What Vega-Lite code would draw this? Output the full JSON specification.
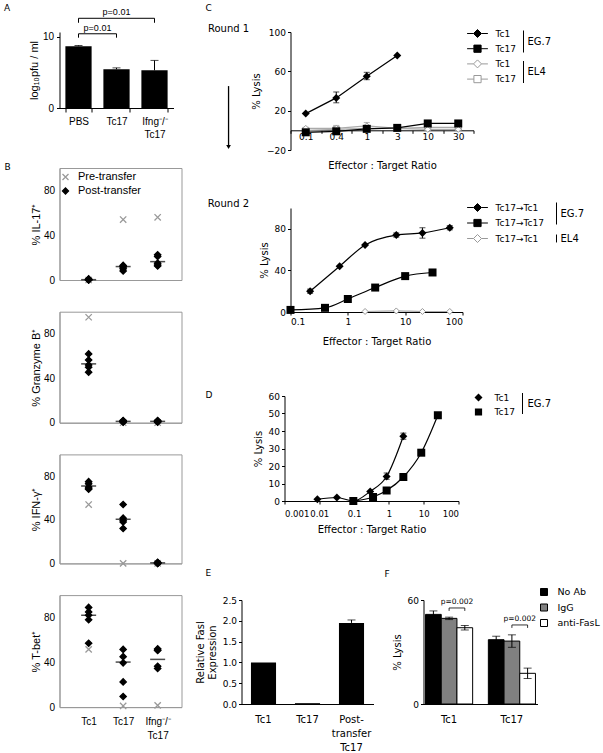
{
"$schema": "https://vega.github.io/schema/vega-lite/v6.json",
"background": "white",
"padding": {"left": 3.5, "top": 3, "right": 0, "bottom": 0},
"config": {
  "view": {"stroke": null},
  "axis": {"grid": false, "domainColor": "black", "tickColor": "black", "labelColor": "black", "titleColor": "black", "titleFontWeight": "normal", "labelFont": "DejaVu Sans", "titleFont": "DejaVu Sans", "labelFontSize": 9, "titleFontSize": 10, "tickSize": 3, "labelOverlap": false},
  "legend": {"labelFont": "DejaVu Sans", "labelFontSize": 10, "labelColor": "black", "padding": 0},
  "title": {"font": "DejaVu Sans", "fontSize": 9, "fontWeight": "normal", "anchor": "start", "frame": "group", "color": "black"}
},
"datasets": {
  "a": [
    {"grp": "PBS", "pfu": 8.7, "hi": 8.8},
    {"grp": "Tc17", "pfu": 5.45, "hi": 5.65},
    {"grp": "Ifng-/- Tc17", "pfu": 5.3, "hi": 6.7}
  ],
  "pa": [
    {"from": "PBS", "to": "Tc17", "top": 10.45, "bot": 9.9, "label": "p=0.01", "pos": "lower", "mid": "PBS"},
    {"from": "PBS", "to": "Ifng-/- Tc17", "top": 12.63, "bot": 12.0, "label": "p=0.01", "pos": "upper", "mid": "Tc17"}
  ],
  "bdata": [
    {"p": "IL", "cell": "Tc1", "kind": "Pre-transfer", "v": 0},
    {"p": "IL", "cell": "Tc17", "kind": "Pre-transfer", "v": 54},
    {"p": "IL", "cell": "Ifng-/- Tc17", "kind": "Pre-transfer", "v": 56},
    {"p": "IL", "cell": "Tc1", "kind": "Post-transfer", "v": 0},
    {"p": "IL", "cell": "Tc1", "kind": "Post-transfer", "v": 0.3},
    {"p": "IL", "cell": "Tc1", "kind": "Post-transfer", "v": 0.5},
    {"p": "IL", "cell": "Tc1", "kind": "Post-transfer", "v": 1},
    {"p": "IL", "cell": "Tc1", "kind": "Post-transfer", "v": 0},
    {"p": "IL", "cell": "Tc17", "kind": "Post-transfer", "v": 13},
    {"p": "IL", "cell": "Tc17", "kind": "Post-transfer", "v": 12},
    {"p": "IL", "cell": "Tc17", "kind": "Post-transfer", "v": 11.5},
    {"p": "IL", "cell": "Tc17", "kind": "Post-transfer", "v": 10},
    {"p": "IL", "cell": "Tc17", "kind": "Post-transfer", "v": 8},
    {"p": "IL", "cell": "Ifng-/- Tc17", "kind": "Post-transfer", "v": 22.5},
    {"p": "IL", "cell": "Ifng-/- Tc17", "kind": "Post-transfer", "v": 21},
    {"p": "IL", "cell": "Ifng-/- Tc17", "kind": "Post-transfer", "v": 15},
    {"p": "IL", "cell": "Ifng-/- Tc17", "kind": "Post-transfer", "v": 13.5},
    {"p": "IL", "cell": "Ifng-/- Tc17", "kind": "Post-transfer", "v": 12.5},
    {"p": "GZ", "cell": "Tc1", "kind": "Pre-transfer", "v": 95},
    {"p": "GZ", "cell": "Tc17", "kind": "Pre-transfer", "v": 0},
    {"p": "GZ", "cell": "Ifng-/- Tc17", "kind": "Pre-transfer", "v": 0},
    {"p": "GZ", "cell": "Tc1", "kind": "Post-transfer", "v": 62},
    {"p": "GZ", "cell": "Tc1", "kind": "Post-transfer", "v": 56.5},
    {"p": "GZ", "cell": "Tc1", "kind": "Post-transfer", "v": 52},
    {"p": "GZ", "cell": "Tc1", "kind": "Post-transfer", "v": 50},
    {"p": "GZ", "cell": "Tc1", "kind": "Post-transfer", "v": 45.5},
    {"p": "GZ", "cell": "Tc17", "kind": "Post-transfer", "v": 2},
    {"p": "GZ", "cell": "Tc17", "kind": "Post-transfer", "v": 1.5},
    {"p": "GZ", "cell": "Tc17", "kind": "Post-transfer", "v": 1},
    {"p": "GZ", "cell": "Tc17", "kind": "Post-transfer", "v": 1},
    {"p": "GZ", "cell": "Tc17", "kind": "Post-transfer", "v": 0.5},
    {"p": "GZ", "cell": "Ifng-/- Tc17", "kind": "Post-transfer", "v": 2},
    {"p": "GZ", "cell": "Ifng-/- Tc17", "kind": "Post-transfer", "v": 1.5},
    {"p": "GZ", "cell": "Ifng-/- Tc17", "kind": "Post-transfer", "v": 1},
    {"p": "GZ", "cell": "Ifng-/- Tc17", "kind": "Post-transfer", "v": 1},
    {"p": "GZ", "cell": "Ifng-/- Tc17", "kind": "Post-transfer", "v": 0.5},
    {"p": "IFN", "cell": "Tc1", "kind": "Pre-transfer", "v": 54},
    {"p": "IFN", "cell": "Tc17", "kind": "Pre-transfer", "v": 0},
    {"p": "IFN", "cell": "Ifng-/- Tc17", "kind": "Pre-transfer", "v": 0},
    {"p": "IFN", "cell": "Tc1", "kind": "Post-transfer", "v": 75},
    {"p": "IFN", "cell": "Tc1", "kind": "Post-transfer", "v": 73},
    {"p": "IFN", "cell": "Tc1", "kind": "Post-transfer", "v": 70},
    {"p": "IFN", "cell": "Tc1", "kind": "Post-transfer", "v": 69},
    {"p": "IFN", "cell": "Tc1", "kind": "Post-transfer", "v": 68},
    {"p": "IFN", "cell": "Tc17", "kind": "Post-transfer", "v": 54},
    {"p": "IFN", "cell": "Tc17", "kind": "Post-transfer", "v": 41.5},
    {"p": "IFN", "cell": "Tc17", "kind": "Post-transfer", "v": 39.5},
    {"p": "IFN", "cell": "Tc17", "kind": "Post-transfer", "v": 38},
    {"p": "IFN", "cell": "Tc17", "kind": "Post-transfer", "v": 32},
    {"p": "IFN", "cell": "Ifng-/- Tc17", "kind": "Post-transfer", "v": 1},
    {"p": "IFN", "cell": "Ifng-/- Tc17", "kind": "Post-transfer", "v": 0.5},
    {"p": "IFN", "cell": "Ifng-/- Tc17", "kind": "Post-transfer", "v": 0.5},
    {"p": "IFN", "cell": "Ifng-/- Tc17", "kind": "Post-transfer", "v": 0},
    {"p": "IFN", "cell": "Ifng-/- Tc17", "kind": "Post-transfer", "v": 0},
    {"p": "TB", "cell": "Tc1", "kind": "Pre-transfer", "v": 51.5},
    {"p": "TB", "cell": "Tc17", "kind": "Pre-transfer", "v": 1},
    {"p": "TB", "cell": "Ifng-/- Tc17", "kind": "Pre-transfer", "v": 1.5},
    {"p": "TB", "cell": "Tc1", "kind": "Post-transfer", "v": 89},
    {"p": "TB", "cell": "Tc1", "kind": "Post-transfer", "v": 85},
    {"p": "TB", "cell": "Tc1", "kind": "Post-transfer", "v": 82},
    {"p": "TB", "cell": "Tc1", "kind": "Post-transfer", "v": 78},
    {"p": "TB", "cell": "Tc1", "kind": "Post-transfer", "v": 57},
    {"p": "TB", "cell": "Tc17", "kind": "Post-transfer", "v": 51.5},
    {"p": "TB", "cell": "Tc17", "kind": "Post-transfer", "v": 45},
    {"p": "TB", "cell": "Tc17", "kind": "Post-transfer", "v": 39.5},
    {"p": "TB", "cell": "Tc17", "kind": "Post-transfer", "v": 22.5},
    {"p": "TB", "cell": "Tc17", "kind": "Post-transfer", "v": 9.5},
    {"p": "TB", "cell": "Ifng-/- Tc17", "kind": "Post-transfer", "v": 52},
    {"p": "TB", "cell": "Ifng-/- Tc17", "kind": "Post-transfer", "v": 51},
    {"p": "TB", "cell": "Ifng-/- Tc17", "kind": "Post-transfer", "v": 50.5},
    {"p": "TB", "cell": "Ifng-/- Tc17", "kind": "Post-transfer", "v": 36.5},
    {"p": "TB", "cell": "Ifng-/- Tc17", "kind": "Post-transfer", "v": 34.5}
  ],
  "bmed": [
    {"p": "IL", "cell": "Tc1", "v": 0.3}, {"p": "IL", "cell": "Tc17", "v": 12}, {"p": "IL", "cell": "Ifng-/- Tc17", "v": 16.4},
    {"p": "GZ", "cell": "Tc1", "v": 53}, {"p": "GZ", "cell": "Tc17", "v": 1.2}, {"p": "GZ", "cell": "Ifng-/- Tc17", "v": 1.2},
    {"p": "IFN", "cell": "Tc1", "v": 71}, {"p": "IFN", "cell": "Tc17", "v": 40.5}, {"p": "IFN", "cell": "Ifng-/- Tc17", "v": 0.5},
    {"p": "TB", "cell": "Tc1", "v": 82}, {"p": "TB", "cell": "Tc17", "v": 40.2}, {"p": "TB", "cell": "Ifng-/- Tc17", "v": 42.6}
  ],
  "c1": [
    {"ratio": "0.1", "series": "Tc17 EL4", "group": "EL4", "lysis": 0},
    {"ratio": "0.4", "series": "Tc17 EL4", "group": "EL4", "lysis": 1},
    {"ratio": "1", "series": "Tc17 EL4", "group": "EL4", "lysis": 2},
    {"ratio": "3", "series": "Tc17 EL4", "group": "EL4", "lysis": 2},
    {"ratio": "10", "series": "Tc17 EL4", "group": "EL4", "lysis": 3},
    {"ratio": "30", "series": "Tc17 EL4", "group": "EL4", "lysis": 3},
    {"ratio": "0.1", "series": "Tc1 EL4", "group": "EL4", "lysis": 2},
    {"ratio": "0.4", "series": "Tc1 EL4", "group": "EL4", "lysis": 2, "lo": -2, "hi": 5},
    {"ratio": "1", "series": "Tc1 EL4", "group": "EL4", "lysis": 4.5, "lo": 1, "hi": 8},
    {"ratio": "3", "series": "Tc1 EL4", "group": "EL4", "lysis": 2},
    {"ratio": "10", "series": "Tc1 EL4", "group": "EL4", "lysis": 1},
    {"ratio": "30", "series": "Tc1 EL4", "group": "EL4", "lysis": 1},
    {"ratio": "0.1", "series": "Tc17 EG.7", "group": "EG.7", "lysis": -2},
    {"ratio": "0.4", "series": "Tc17 EG.7", "group": "EG.7", "lysis": -1},
    {"ratio": "1", "series": "Tc17 EG.7", "group": "EG.7", "lysis": 1.5},
    {"ratio": "3", "series": "Tc17 EG.7", "group": "EG.7", "lysis": 2.5},
    {"ratio": "10", "series": "Tc17 EG.7", "group": "EG.7", "lysis": 7},
    {"ratio": "30", "series": "Tc17 EG.7", "group": "EG.7", "lysis": 7},
    {"ratio": "0.1", "series": "Tc1 EG.7", "group": "EG.7", "lysis": 17},
    {"ratio": "0.4", "series": "Tc1 EG.7", "group": "EG.7", "lysis": 33, "lo": 28, "hi": 39},
    {"ratio": "1", "series": "Tc1 EG.7", "group": "EG.7", "lysis": 55, "lo": 51.5, "hi": 59},
    {"ratio": "3", "series": "Tc1 EG.7", "group": "EG.7", "lysis": 76}
  ],
  "c2": [
    {"ratio": 2, "series": "Tc17→Tc1 EL4", "group": "EL4", "lysis": 0.5},
    {"ratio": 7, "series": "Tc17→Tc1 EL4", "group": "EL4", "lysis": 1},
    {"ratio": 20, "series": "Tc17→Tc1 EL4", "group": "EL4", "lysis": 0.5},
    {"ratio": 60, "series": "Tc17→Tc1 EL4", "group": "EL4", "lysis": 0.5},
    {"ratio": 0.1, "series": "Tc17→Tc17 EG.7", "group": "EG.7", "lysis": 2},
    {"ratio": 0.4, "series": "Tc17→Tc17 EG.7", "group": "EG.7", "lysis": 4},
    {"ratio": 1, "series": "Tc17→Tc17 EG.7", "group": "EG.7", "lysis": 12.5},
    {"ratio": 3, "series": "Tc17→Tc17 EG.7", "group": "EG.7", "lysis": 23.5},
    {"ratio": 10, "series": "Tc17→Tc17 EG.7", "group": "EG.7", "lysis": 34.5},
    {"ratio": 30, "series": "Tc17→Tc17 EG.7", "group": "EG.7", "lysis": 38},
    {"ratio": 0.22, "series": "Tc17→Tc1 EG.7", "group": "EG.7", "lysis": 20, "lo": 18, "hi": 22},
    {"ratio": 0.72, "series": "Tc17→Tc1 EG.7", "group": "EG.7", "lysis": 44},
    {"ratio": 2, "series": "Tc17→Tc1 EG.7", "group": "EG.7", "lysis": 64.5},
    {"ratio": 7, "series": "Tc17→Tc1 EG.7", "group": "EG.7", "lysis": 74, "lo": 72, "hi": 76},
    {"ratio": 20, "series": "Tc17→Tc1 EG.7", "group": "EG.7", "lysis": 76, "lo": 71, "hi": 81},
    {"ratio": 60, "series": "Tc17→Tc1 EG.7", "group": "EG.7", "lysis": 81, "lo": 79, "hi": 83}
  ],
  "d": [
    {"ratio": 0.095, "series": "Tc17 EG.7", "group": "EG.7", "lysis": 0},
    {"ratio": 0.35, "series": "Tc17 EG.7", "group": "EG.7", "lysis": 2.3},
    {"ratio": 0.86, "series": "Tc17 EG.7", "group": "EG.7", "lysis": 6},
    {"ratio": 2.6, "series": "Tc17 EG.7", "group": "EG.7", "lysis": 13.7},
    {"ratio": 8.5, "series": "Tc17 EG.7", "group": "EG.7", "lysis": 27.6},
    {"ratio": 25.5, "series": "Tc17 EG.7", "group": "EG.7", "lysis": 49},
    {"ratio": 0.0088, "series": "Tc1 EG.7", "group": "EG.7", "lysis": 1},
    {"ratio": 0.032, "series": "Tc1 EG.7", "group": "EG.7", "lysis": 2},
    {"ratio": 0.095, "series": "Tc1 EG.7", "group": "EG.7", "lysis": 0},
    {"ratio": 0.29, "series": "Tc1 EG.7", "group": "EG.7", "lysis": 5.5},
    {"ratio": 0.86, "series": "Tc1 EG.7", "group": "EG.7", "lysis": 14, "lo": 12.4, "hi": 16},
    {"ratio": 2.6, "series": "Tc1 EG.7", "group": "EG.7", "lysis": 37, "lo": 35.3, "hi": 38.8}
  ],
  "e": [
    {"cell": "Tc1", "fasl": 1.0},
    {"cell": "Tc17", "fasl": 0.02},
    {"cell": "Post-transfer Tc17", "fasl": 1.95, "hi": 2.02}
  ],
  "f": [
    {"key": "Tc1 No Ab", "cell": "Tc1", "ab": "No Ab", "lysis": 51.7, "lo": 49.7, "hi": 53.7},
    {"key": "Tc1 IgG", "cell": "Tc1", "ab": "IgG", "lysis": 49.4, "lo": 48.7, "hi": 50.1},
    {"key": "Tc1 anti-FasL", "cell": "Tc1", "ab": "anti-FasL", "lysis": 44, "lo": 42.7, "hi": 45.3},
    {"key": "Tc17 No Ab", "cell": "Tc17", "ab": "No Ab", "lysis": 37.1, "lo": 35.1, "hi": 39.1},
    {"key": "Tc17 IgG", "cell": "Tc17", "ab": "IgG", "lysis": 36.3, "lo": 32.7, "hi": 39.9},
    {"key": "Tc17 anti-FasL", "cell": "Tc17", "ab": "anti-FasL", "lysis": 17.7, "lo": 14.7, "hi": 20.7}
  ],
  "pf": [
    {"a": "Tc1 IgG", "b": "Tc1 anti-FasL", "top": 55.4, "bot": 53.7, "label": "p=0.002"},
    {"a": "Tc17 IgG", "b": "Tc17 anti-FasL", "top": 45.6, "bot": 43.9, "label": "p=0.002"}
  ],
  "one": [{"k": 1}]
},
"spacing": 12,
"resolve": {"scale": {"shape": "independent", "fill": "independent", "stroke": "independent", "size": "independent", "strokeDash": "independent", "color": "independent"}},
"hconcat": [
{
  "vconcat": [
  {
    "width": 114, "height": 76,
    "title": {"text": "A", "dx": -55.5, "offset": -5},
    "layer": [
      {"data": {"name": "a"},
       "encoding": {
         "x": {"field": "grp", "type": "nominal", "sort": null, "scale": {"domain": ["PBS", "Tc17", "Ifng-/- Tc17"], "paddingInner": 0.31, "paddingOuter": 0.155},
               "axis": {"title": null, "tickBand": "extent", "tickSize": 4, "labelAngle": 0, "labelFont": "Liberation Sans", "labelFontSize": 10, "labelPadding": 4, "labelLineHeight": 13, "labelExpr": "datum.value == 'Ifng-/- Tc17' ? ['Ifng⁻/⁻', 'Tc17'] : datum.value"}},
         "y": {"field": "pfu", "type": "quantitative", "title": "log₁₀pfu / ml", "scale": {"domain": [0, 10.7], "nice": false},
               "axis": {"values": [0, 2, 4, 6, 8, 10], "labelFont": "Liberation Sans", "labelFontSize": 10, "titleFont": "Liberation Sans", "titleFontSize": 11, "tickSize": 3, "labelPadding": 3, "titlePadding": 3}}
       },
       "layer": [
         {"mark": {"type": "bar", "color": "black"}},
         {"mark": {"type": "rule", "color": "black"}, "encoding": {"y2": {"field": "hi"}}},
         {"mark": {"type": "tick", "color": "black", "size": 8, "thickness": 1}, "encoding": {"y": {"field": "hi", "type": "quantitative", "title": "log₁₀pfu / ml"}}}
       ]},
      {"data": {"name": "pa"},
       "layer": [
         {"mark": {"type": "rule", "color": "black"}, "encoding": {"x": {"field": "from", "type": "nominal", "bandPosition": 0.5}, "x2": {"field": "to"}, "y": {"field": "top", "type": "quantitative", "title": "log₁₀pfu / ml"}}},
         {"mark": {"type": "rule", "color": "black"}, "encoding": {"x": {"field": "from", "type": "nominal", "bandPosition": 0.5}, "y": {"field": "top", "type": "quantitative", "title": "log₁₀pfu / ml"}, "y2": {"field": "bot"}}},
         {"mark": {"type": "rule", "color": "black"}, "encoding": {"x": {"field": "to", "type": "nominal", "bandPosition": 0.5}, "y": {"field": "top", "type": "quantitative", "title": "log₁₀pfu / ml"}, "y2": {"field": "bot"}}},
         {"transform": [{"filter": "datum.pos == 'lower'"}], "mark": {"type": "text", "baseline": "bottom", "dy": -1, "dx": 19, "font": "Liberation Sans", "fontSize": 9}, "encoding": {"x": {"field": "mid", "type": "nominal", "bandPosition": 0.5}, "y": {"field": "top", "type": "quantitative", "title": "log₁₀pfu / ml"}, "text": {"field": "label"}}},
         {"transform": [{"filter": "datum.pos == 'upper'"}], "mark": {"type": "text", "baseline": "bottom", "dy": -1, "font": "Liberation Sans", "fontSize": 9}, "encoding": {"x": {"field": "mid", "type": "nominal", "bandPosition": 0.5}, "y": {"field": "top", "type": "quantitative", "title": "log₁₀pfu / ml"}, "text": {"field": "label"}}}
       ]}
    ]
  },
  {
    "vconcat": [
    {
      "width": 122, "height": 112,
      "view": {"stroke": "#999"},
      "title": {"text": "B", "dx": -55, "offset": -3.8},
      "layer": [
        {"data": {"name": "bdata"}, "transform": [{"filter": "datum.p == 'IL'"}],
         "mark": {"type": "point", "filled": false, "opacity": 1, "strokeWidth": 1.3, "size": 40},
         "encoding": {
           "x": {"field": "cell", "type": "nominal", "sort": null, "scale": {"type": "point", "domain": ["Tc1", "Tc17", "Ifng-/- Tc17"], "padding": 0.768, "align": 0.55}, "axis": {"title": null, "labels": false, "ticks": false, "domainColor": "#999"}},
           "y": {"field": "v", "type": "quantitative", "title": "% IL-17⁺", "scale": {"domain": [0, 100], "nice": false}, "axis": {"values": [0, 20, 40, 60, 80, 100], "labelFont": "Liberation Sans", "labelFontSize": 10, "titleFont": "Liberation Sans", "titleFontSize": 11, "ticks": false, "labelPadding": 5, "titlePadding": 2, "domainColor": "#999"}},
           "shape": {"field": "kind", "type": "nominal", "scale": {"domain": ["Pre-transfer", "Post-transfer"], "range": ["M-1,-1L1,1M-1,1L1,-1", "diamond"]},
                     "legend": {"orient": "none", "legendX": 0, "legendY": 3.5, "title": null, "symbolSize": 36, "symbolOffset": 0.5, "labelOffset": 7, "rowPadding": 1, "labelFont": "Liberation Sans", "labelFontSize": 11, "symbolStrokeWidth": 1.3, "symbolOpacity": 1}},
           "stroke": {"field": "kind", "type": "nominal", "scale": {"domain": ["Pre-transfer", "Post-transfer"], "range": ["#999", "black"]}},
           "fill": {"field": "kind", "type": "nominal", "scale": {"domain": ["Pre-transfer", "Post-transfer"], "range": ["transparent", "black"]}}
         }},
        {"data": {"name": "bmed"}, "transform": [{"filter": "datum.p == 'IL'"}],
         "mark": {"type": "tick", "color": "black", "size": 15, "thickness": 1.5, "orient": "horizontal"},
         "encoding": {"x": {"field": "cell", "type": "nominal", "sort": null}, "y": {"field": "v", "type": "quantitative", "title": "% IL-17⁺"}}}
      ]
    },
    {
      "width": 122, "height": 111,
      "view": {"stroke": "#999"},
      "layer": [
        {"data": {"name": "bdata"}, "transform": [{"filter": "datum.p == 'GZ'"}],
         "mark": {"type": "point", "filled": false, "opacity": 1, "strokeWidth": 1.3, "size": 40},
         "encoding": {
           "x": {"field": "cell", "type": "nominal", "sort": null, "scale": {"type": "point", "domain": ["Tc1", "Tc17", "Ifng-/- Tc17"], "padding": 0.768, "align": 0.55}, "axis": {"title": null, "labels": false, "ticks": false, "domainColor": "#999"}},
           "y": {"field": "v", "type": "quantitative", "title": "% Granzyme B⁺", "scale": {"domain": [0, 100], "nice": false}, "axis": {"values": [0, 20, 40, 60, 80, 100], "labelFont": "Liberation Sans", "labelFontSize": 10, "titleFont": "Liberation Sans", "titleFontSize": 11, "ticks": false, "labelPadding": 5, "titlePadding": 2, "domainColor": "#999"}},
           "shape": {"field": "kind", "type": "nominal", "scale": {"domain": ["Pre-transfer", "Post-transfer"], "range": ["M-1,-1L1,1M-1,1L1,-1", "diamond"]}, "legend": null},
           "stroke": {"field": "kind", "type": "nominal", "scale": {"domain": ["Pre-transfer", "Post-transfer"], "range": ["#999", "black"]}, "legend": null},
           "fill": {"field": "kind", "type": "nominal", "scale": {"domain": ["Pre-transfer", "Post-transfer"], "range": ["transparent", "black"]}, "legend": null}
         }},
        {"data": {"name": "bmed"}, "transform": [{"filter": "datum.p == 'GZ'"}],
         "mark": {"type": "tick", "color": "black", "size": 15, "thickness": 1.5, "orient": "horizontal"},
         "encoding": {"x": {"field": "cell", "type": "nominal", "sort": null}, "y": {"field": "v", "type": "quantitative", "title": "% Granzyme B⁺"}}}
      ]
    },
    {
      "width": 122, "height": 109,
      "view": {"stroke": "#999"},
      "layer": [
        {"data": {"name": "bdata"}, "transform": [{"filter": "datum.p == 'IFN'"}],
         "mark": {"type": "point", "filled": false, "opacity": 1, "strokeWidth": 1.3, "size": 40},
         "encoding": {
           "x": {"field": "cell", "type": "nominal", "sort": null, "scale": {"type": "point", "domain": ["Tc1", "Tc17", "Ifng-/- Tc17"], "padding": 0.768, "align": 0.55}, "axis": {"title": null, "labels": false, "ticks": false, "domainColor": "#999"}},
           "y": {"field": "v", "type": "quantitative", "title": "% IFN-γ⁺", "scale": {"domain": [0, 100], "nice": false}, "axis": {"values": [0, 20, 40, 60, 80, 100], "labelFont": "Liberation Sans", "labelFontSize": 10, "titleFont": "Liberation Sans", "titleFontSize": 11, "ticks": false, "labelPadding": 5, "titlePadding": 2, "domainColor": "#999"}},
           "shape": {"field": "kind", "type": "nominal", "scale": {"domain": ["Pre-transfer", "Post-transfer"], "range": ["M-1,-1L1,1M-1,1L1,-1", "diamond"]}, "legend": null},
           "stroke": {"field": "kind", "type": "nominal", "scale": {"domain": ["Pre-transfer", "Post-transfer"], "range": ["#999", "black"]}, "legend": null},
           "fill": {"field": "kind", "type": "nominal", "scale": {"domain": ["Pre-transfer", "Post-transfer"], "range": ["transparent", "black"]}, "legend": null}
         }},
        {"data": {"name": "bmed"}, "transform": [{"filter": "datum.p == 'IFN'"}],
         "mark": {"type": "tick", "color": "black", "size": 15, "thickness": 1.5, "orient": "horizontal"},
         "encoding": {"x": {"field": "cell", "type": "nominal", "sort": null}, "y": {"field": "v", "type": "quantitative", "title": "% IFN-γ⁺"}}}
      ]
    },
    {
      "width": 122, "height": 112,
      "view": {"stroke": "#999"},
      "layer": [
        {"data": {"name": "bdata"}, "transform": [{"filter": "datum.p == 'TB'"}],
         "mark": {"type": "point", "filled": false, "opacity": 1, "strokeWidth": 1.3, "size": 40},
         "encoding": {
           "x": {"field": "cell", "type": "nominal", "sort": null, "scale": {"type": "point", "domain": ["Tc1", "Tc17", "Ifng-/- Tc17"], "padding": 0.768, "align": 0.55},
                 "axis": {"title": null, "ticks": false, "domainColor": "#999", "labelAngle": 0, "labelFont": "Liberation Sans", "labelFontSize": 10, "labelPadding": 9, "labelLineHeight": 14, "labelExpr": "datum.value == 'Ifng-/- Tc17' ? ['Ifng⁻/⁻', 'Tc17'] : datum.value"}},
           "y": {"field": "v", "type": "quantitative", "title": "% T-bet⁺", "scale": {"domain": [0, 100], "nice": false}, "axis": {"values": [0, 20, 40, 60, 80, 100], "labelFont": "Liberation Sans", "labelFontSize": 10, "titleFont": "Liberation Sans", "titleFontSize": 11, "ticks": false, "labelPadding": 5, "titlePadding": 2, "domainColor": "#999"}},
           "shape": {"field": "kind", "type": "nominal", "scale": {"domain": ["Pre-transfer", "Post-transfer"], "range": ["M-1,-1L1,1M-1,1L1,-1", "diamond"]}, "legend": null},
           "stroke": {"field": "kind", "type": "nominal", "scale": {"domain": ["Pre-transfer", "Post-transfer"], "range": ["#999", "black"]}, "legend": null},
           "fill": {"field": "kind", "type": "nominal", "scale": {"domain": ["Pre-transfer", "Post-transfer"], "range": ["transparent", "black"]}, "legend": null}
         }},
        {"data": {"name": "bmed"}, "transform": [{"filter": "datum.p == 'TB'"}],
         "mark": {"type": "tick", "color": "black", "size": 15, "thickness": 1.5, "orient": "horizontal"},
         "encoding": {"x": {"field": "cell", "type": "nominal", "sort": null}, "y": {"field": "v", "type": "quantitative", "title": "% T-bet⁺"}}}
      ]
    }
    ],
    "spacing": 31.7,
    "bounds": "flush",
    "resolve": {"scale": {"shape": "independent", "fill": "independent", "stroke": "independent", "size": "independent", "strokeDash": "independent", "color": "independent"}}
  }
  ],
  "spacing": 60,
  "bounds": "flush",
  "resolve": {"scale": {"shape": "independent", "fill": "independent", "stroke": "independent", "size": "independent", "strokeDash": "independent", "color": "independent"}}
},
{
  "vconcat": [
  {
    "width": 189, "height": 146,
    "title": {"text": "C", "dx": -79, "offset": 11.5},
    "layer": [
      {"data": {"name": "c1"},
       "encoding": {
         "x": {"field": "ratio", "type": "nominal", "sort": null, "bandPosition": 0.5, "scale": {"type": "band", "domain": ["0.1", "0.4", "1", "3", "10", "30"], "range": [6, 189], "paddingInner": 0, "paddingOuter": 0},
               "axis": {"title": "Effector : Target Ratio", "offset": -47.7, "tickBand": "extent", "labelAngle": 0, "labelPadding": -0.5, "titlePadding": 19, "tickSize": 3}},
         "y": {"field": "lysis", "type": "quantitative", "title": "% Lysis", "scale": {"domain": [-20, 100], "range": [118, 0], "nice": false, "zero": false},
               "axis": {"offset": -6, "values": [-20, 0, 20, 40, 60, 80, 100], "titlePadding": 5, "labelPadding": 2}}
       },
       "layer": [
         {"mark": {"type": "line", "strokeWidth": 1.2},
          "encoding": {"stroke": {"field": "series", "type": "nominal", "scale": {"domain": ["Tc1 EG.7", "Tc17 EG.7", "Tc1 EL4", "Tc17 EL4"], "range": ["black", "black", "#aaa", "#aaa"]}, "legend": null}, "order": {"value": null}}},
         {"transform": [{"filter": "isValid(datum.lo)"}], "mark": {"type": "rule", "strokeWidth": 1},
          "encoding": {"y": {"field": "lo", "type": "quantitative", "title": "% Lysis"}, "y2": {"field": "hi"}, "stroke": {"field": "series", "type": "nominal", "scale": {"domain": ["Tc1 EG.7", "Tc17 EG.7", "Tc1 EL4", "Tc17 EL4"], "range": ["black", "black", "#999", "#999"]}, "legend": null}}},
         {"transform": [{"filter": "isValid(datum.lo)"}], "mark": {"type": "tick", "size": 6, "thickness": 1},
          "encoding": {"y": {"field": "lo", "type": "quantitative", "title": "% Lysis"}, "color": {"field": "series", "type": "nominal", "scale": {"domain": ["Tc1 EG.7", "Tc17 EG.7", "Tc1 EL4", "Tc17 EL4"], "range": ["black", "black", "#999", "#999"]}, "legend": null}}},
         {"transform": [{"filter": "isValid(datum.lo)"}], "mark": {"type": "tick", "size": 6, "thickness": 1},
          "encoding": {"y": {"field": "hi", "type": "quantitative", "title": "% Lysis"}, "color": {"field": "series", "type": "nominal", "scale": {"domain": ["Tc1 EG.7", "Tc17 EG.7", "Tc1 EL4", "Tc17 EL4"], "range": ["black", "black", "#999", "#999"]}, "legend": null}}},
         {"transform": [{"filter": "datum.group == 'EL4'"}], "mark": {"type": "point", "opacity": 1, "strokeWidth": 1, "size": 36, "shape": "diamond", "filled": false},
          "encoding": {
            "shape": {"field": "series", "type": "nominal", "scale": {"domain": ["Tc1 EL4", "Tc17 EL4"], "range": ["diamond", "square"]}, "legend": null},
            "fill": {"value": "white"}, "stroke": {"value": "#999"}
          }},
         {"transform": [{"filter": "datum.group == 'EG.7'"}], "mark": {"type": "point", "opacity": 1, "strokeWidth": 1, "size": 64, "filled": true, "color": "black"},
          "encoding": {
            "shape": {"field": "series", "type": "nominal", "scale": {"domain": ["Tc1 EG.7", "Tc17 EG.7"], "range": ["diamond", "square"]}, "legend": null}
          }},
         {"mark": {"type": "point", "opacity": 0, "filled": false},
          "encoding": {
            "shape": {"field": "series", "type": "nominal", "scale": {"domain": ["Tc1 EG.7", "Tc17 EG.7", "Tc1 EL4", "Tc17 EL4"], "range": ["M-2.6,0L-1,0M1,0L2.6,0M0,-1L1,0L0,1L-1,0Z", "M-2.6,0L-0.9,0M0.9,0L2.6,0M-0.9,-0.9L0.9,-0.9L0.9,0.9L-0.9,0.9Z", "M-2.6,0L-1,0M1,0L2.6,0M0,-1L1,0L0,1L-1,0Z", "M-2.6,0L-0.9,0M0.9,0L2.6,0M-0.9,-0.9L0.9,-0.9L0.9,0.9L-0.9,0.9Z"]},
                      "legend": {"orient": "none", "legendX": 178.1, "legendY": -3, "title": null, "padding": 0, "symbolSize": 64, "symbolOffset": 10.4, "labelOffset": 13.6, "rowPadding": 2.2, "labelFont": "DejaVu Sans", "labelFontSize": 9, "symbolStrokeWidth": 1, "symbolOpacity": 1, "labelExpr": "split(datum.value, ' ')[0]"}},
            "fill": {"field": "series", "type": "nominal", "scale": {"domain": ["Tc1 EG.7", "Tc17 EG.7", "Tc1 EL4", "Tc17 EL4"], "range": ["black", "black", "white", "white"]}},
            "stroke": {"field": "series", "type": "nominal", "scale": {"domain": ["Tc1 EG.7", "Tc17 EG.7", "Tc1 EL4", "Tc17 EL4"], "range": ["black", "black", "#999", "#999"]}}
          }},
         {"mark": {"type": "point", "opacity": 0, "filled": false, "color": "black"},
          "encoding": {"shape": {"field": "group", "type": "nominal", "scale": {"domain": ["EG.7", "EL4"], "range": ["M0,-1L0,1", "M0,-1L0,1"]},
            "legend": {"orient": "none", "legendX": 227.5, "legendY": -2, "title": null, "padding": 0, "symbolSize": 484, "symbolOffset": 0, "labelOffset": -7.5, "rowPadding": 3.5, "labelFont": "DejaVu Sans", "labelFontSize": 10, "symbolStrokeColor": "black", "symbolFillColor": "transparent", "symbolStrokeWidth": 1, "symbolOpacity": 1}}}}
       ],
       "resolve": {"scale": {"shape": "independent", "fill": "independent", "stroke": "independent", "color": "independent"}}},
      {"data": {"name": "one"},
       "encoding": {"x": {"datum": -0.296, "type": "quantitative", "scale": {"domain": [0, 1], "nice": false, "zero": false}, "axis": null}},
       "layer": [
         {"mark": {"type": "rule", "color": "black", "strokeWidth": 1.3}, "encoding": {"y": {"datum": 45}, "y2": {"datum": -15}}},
         {"mark": {"type": "point", "shape": "triangle-down", "filled": true, "color": "black", "size": 22, "opacity": 1}, "encoding": {"y": {"datum": -17}}},
         {"mark": {"type": "text", "text": "Round 1", "font": "DejaVu Sans", "fontSize": 10, "align": "center", "baseline": "middle"}, "encoding": {"y": {"datum": 102.7}}}
       ]}
    ],
    "resolve": {"scale": {"x": "independent"}}
  },
  {
    "width": 178, "height": 158,
    "layer": [
      {"data": {"name": "c2"},
       "encoding": {
         "x": {"field": "ratio", "type": "quantitative", "scale": {"type": "log", "domain": [0.1, 100], "range": [6, 178], "nice": false},
               "axis": {"title": "Effector : Target Ratio", "offset": -54, "values": [0.1, 1, 10, 100], "format": "~g", "labelPadding": 2, "titlePadding": 10}},
         "y": {"field": "lysis", "type": "quantitative", "title": "% Lysis", "scale": {"domain": [0, 100], "range": [104, 0], "nice": false},
               "axis": {"offset": -6, "values": [0, 20, 40, 60, 80, 100], "titlePadding": 5, "labelPadding": 2}}
       },
       "layer": [
         {"mark": {"type": "line", "strokeWidth": 1.2, "interpolate": "monotone"},
          "encoding": {"stroke": {"field": "series", "type": "nominal", "scale": {"domain": ["Tc17→Tc1 EG.7", "Tc17→Tc17 EG.7", "Tc17→Tc1 EL4"], "range": ["black", "black", "#aaa"]}, "legend": null}}},
         {"transform": [{"filter": "isValid(datum.lo)"}], "mark": {"type": "rule", "color": "black", "strokeWidth": 1},
          "encoding": {"y": {"field": "lo", "type": "quantitative", "title": "% Lysis"}, "y2": {"field": "hi"}}},
         {"transform": [{"filter": "isValid(datum.lo)"}], "mark": {"type": "tick", "color": "black", "size": 6, "thickness": 1, "orient": "horizontal"},
          "encoding": {"y": {"field": "lo", "type": "quantitative", "title": "% Lysis"}}},
         {"transform": [{"filter": "isValid(datum.lo)"}], "mark": {"type": "tick", "color": "black", "size": 6, "thickness": 1, "orient": "horizontal"},
          "encoding": {"y": {"field": "hi", "type": "quantitative", "title": "% Lysis"}}},
         {"transform": [{"filter": "datum.group == 'EL4'"}], "mark": {"type": "point", "opacity": 1, "strokeWidth": 1, "size": 36, "shape": "diamond", "filled": false},
          "encoding": {"fill": {"value": "white"}, "stroke": {"value": "#999"}}},
         {"transform": [{"filter": "datum.group == 'EG.7'"}], "mark": {"type": "point", "opacity": 1, "strokeWidth": 1, "size": 64, "filled": true, "color": "black"},
          "encoding": {
            "shape": {"field": "series", "type": "nominal", "scale": {"domain": ["Tc17→Tc1 EG.7", "Tc17→Tc17 EG.7"], "range": ["diamond", "square"]}, "legend": null}
          }},
         {"mark": {"type": "point", "opacity": 0, "filled": false},
          "encoding": {
            "shape": {"field": "series", "type": "nominal", "scale": {"domain": ["Tc17→Tc1 EG.7", "Tc17→Tc17 EG.7", "Tc17→Tc1 EL4"], "range": ["M-2.6,0L-1,0M1,0L2.6,0M0,-1L1,0L0,1L-1,0Z", "M-2.6,0L-0.9,0M0.9,0L2.6,0M-0.9,-0.9L0.9,-0.9L0.9,0.9L-0.9,0.9Z", "M-2.6,0L-1,0M1,0L2.6,0M0,-1L1,0L0,1L-1,0Z"]},
                      "legend": {"orient": "none", "legendX": 178.1, "legendY": -5, "title": null, "padding": 0, "symbolSize": 64, "symbolOffset": 10.4, "labelOffset": 13.6, "rowPadding": 2.5, "labelFont": "DejaVu Sans", "labelFontSize": 9, "symbolStrokeWidth": 1, "symbolOpacity": 1, "labelExpr": "split(datum.value, ' ')[0]"}},
            "fill": {"field": "series", "type": "nominal", "scale": {"domain": ["Tc17→Tc1 EG.7", "Tc17→Tc17 EG.7", "Tc17→Tc1 EL4"], "range": ["black", "black", "white"]}},
            "stroke": {"field": "series", "type": "nominal", "scale": {"domain": ["Tc17→Tc1 EG.7", "Tc17→Tc17 EG.7", "Tc17→Tc1 EL4"], "range": ["black", "black", "#999"]}}
          }},
         {"mark": {"type": "point", "opacity": 0, "filled": false, "color": "black"},
          "encoding": {"shape": {"field": "group", "type": "nominal", "scale": {"domain": ["EG.7", "EL4"], "range": ["M0,-1L0,1", "M0,-0.36L0,0.36"]},
            "legend": {"orient": "none", "legendX": 260.5, "legendY": -6, "title": null, "padding": 0, "symbolSize": 484, "symbolOffset": 0, "labelOffset": -7.5, "rowPadding": -1, "labelFont": "DejaVu Sans", "labelFontSize": 10, "symbolStrokeColor": "black", "symbolFillColor": "transparent", "symbolStrokeWidth": 1, "symbolOpacity": 1}}}}
       ],
       "resolve": {"scale": {"shape": "independent", "fill": "independent", "stroke": "independent", "color": "independent"}}},
      {"data": {"name": "one"},
       "encoding": {"x": {"datum": -0.315, "type": "quantitative", "scale": {"domain": [0, 1], "nice": false, "zero": false}, "axis": null}},
       "layer": [
         {"mark": {"type": "text", "text": "Round 2", "font": "DejaVu Sans", "fontSize": 10, "align": "center", "baseline": "middle"}, "encoding": {"y": {"datum": 103.8}}}
       ]}
    ],
    "resolve": {"scale": {"x": "independent"}}
  },
  {
    "width": 174, "height": 174,
    "title": {"text": "D", "dx": -79, "offset": -8},
    "data": {"name": "d"},
    "encoding": {
      "x": {"field": "ratio", "type": "quantitative", "scale": {"type": "log", "domain": [0.001, 100], "nice": false},
            "axis": {"title": "Effector : Target Ratio", "offset": -69, "values": [0.001, 0.01, 0.1, 1, 10, 100], "format": "~g", "labelPadding": 5.5, "titlePadding": 6, "labelFontSize": 8.5}},
      "y": {"field": "lysis", "type": "quantitative", "title": "% Lysis", "scale": {"domain": [0, 60], "range": [105, 0], "nice": false},
            "axis": {"values": [0, 10, 20, 30, 40, 50, 60], "titlePadding": 5, "labelPadding": 2}}
    },
    "layer": [
      {"mark": {"type": "line", "strokeWidth": 1.2, "interpolate": "monotone", "color": "black"}, "encoding": {"detail": {"field": "series"}}},
      {"transform": [{"filter": "isValid(datum.lo)"}], "mark": {"type": "rule", "color": "black", "strokeWidth": 1},
       "encoding": {"y": {"field": "lo", "type": "quantitative", "title": "% Lysis"}, "y2": {"field": "hi"}}},
      {"transform": [{"filter": "isValid(datum.lo)"}], "mark": {"type": "tick", "color": "black", "size": 6, "thickness": 1, "orient": "horizontal"},
       "encoding": {"y": {"field": "lo", "type": "quantitative", "title": "% Lysis"}}},
      {"transform": [{"filter": "isValid(datum.lo)"}], "mark": {"type": "tick", "color": "black", "size": 6, "thickness": 1, "orient": "horizontal"},
       "encoding": {"y": {"field": "hi", "type": "quantitative", "title": "% Lysis"}}},
      {"mark": {"type": "point", "opacity": 1, "strokeWidth": 1, "size": 64, "filled": true, "color": "black"},
       "encoding": {
         "shape": {"field": "series", "type": "nominal", "scale": {"domain": ["Tc1 EG.7", "Tc17 EG.7"], "range": ["diamond", "square"]}, "legend": null}
       }},
      {"mark": {"type": "point", "opacity": 0, "filled": true, "color": "black"},
       "encoding": {
         "shape": {"field": "series", "type": "nominal", "scale": {"domain": ["Tc1 EG.7", "Tc17 EG.7"], "range": ["M-2.6,0L-1,0M1,0L2.6,0M0,-1L1,0L0,1L-1,0Z", "M-2.6,0L-0.9,0M0.9,0L2.6,0M-0.9,-0.9L0.9,-0.9L0.9,0.9L-0.9,0.9Z"]},
                   "legend": {"orient": "none", "legendX": 179.1, "legendY": -3, "title": null, "padding": 0, "symbolSize": 64, "symbolOffset": 10.4, "labelOffset": 11.6, "rowPadding": 1.5, "labelFont": "DejaVu Sans", "labelFontSize": 9, "symbolStrokeWidth": 1, "symbolOpacity": 1, "symbolStrokeColor": "black", "symbolFillColor": "black", "labelExpr": "split(datum.value, ' ')[0]"}}
       }},
      {"mark": {"type": "point", "opacity": 0, "filled": false, "color": "black"},
       "encoding": {"strokeDash": {"field": "group", "type": "nominal", "scale": {"domain": ["EG.7"], "range": [[1, 0]]},
         "legend": {"orient": "none", "legendX": 227, "legendY": -3.5, "title": null, "padding": 0, "symbolType": "M0,-1L0,1", "symbolSize": 441, "symbolOffset": 0, "labelOffset": -6, "labelFont": "DejaVu Sans", "labelFontSize": 10, "symbolStrokeColor": "black", "symbolFillColor": "transparent", "symbolStrokeWidth": 1, "symbolOpacity": 1}}}}
    ],
    "resolve": {"scale": {"shape": "independent"}}
  },
  {
    "hconcat": [
    {
      "width": 89, "height": 104,
      "title": {"text": "E", "dx": -79, "offset": 17.7},
      "data": {"name": "e"},
      "encoding": {
        "x": {"field": "cell", "type": "nominal", "sort": null, "scale": {"domain": ["Tc1", "Tc17", "Post-transfer Tc17"], "range": [-43, 89], "paddingInner": 0.43, "paddingOuter": 0.215},
              "axis": {"title": null, "ticks": false, "labelAngle": 0, "labelPadding": 10, "labelLineHeight": 14, "labelFontSize": 10, "labelExpr": "datum.value == 'Post-transfer Tc17' ? ['Post-', 'transfer', 'Tc17'] : datum.value"}},
        "y": {"field": "fasl", "type": "quantitative", "title": ["Relative Fasl", "Expression"], "scale": {"domain": [0, 2.5], "nice": false},
              "axis": {"offset": 43, "values": [0, 0.5, 1, 1.5, 2, 2.5], "titlePadding": 5, "labelPadding": 2}}
      },
      "layer": [
        {"mark": {"type": "bar", "color": "black"}},
        {"transform": [{"filter": "isValid(datum.hi)"}], "mark": {"type": "rule", "color": "black"}, "encoding": {"y2": {"field": "hi"}}},
        {"transform": [{"filter": "isValid(datum.hi)"}], "mark": {"type": "tick", "color": "black", "size": 8, "thickness": 1}, "encoding": {"y": {"field": "hi", "type": "quantitative", "title": ["Relative Fasl", "Expression"]}}}
      ]
    },
    {
      "width": 114, "height": 104,
      "title": {"text": "F", "dx": -39, "offset": 8.5},
      "layer": [
        {"data": {"name": "f"},
         "encoding": {
           "x": {"field": "key", "type": "nominal", "sort": null, "scale": {"domain": ["Tc1 No Ab", "Tc1 IgG", "Tc1 anti-FasL", " ", "Tc17 No Ab", "Tc17 IgG", "Tc17 anti-FasL"], "paddingInner": 0, "paddingOuter": 0.13},
                 "axis": {"title": null, "ticks": false, "labelAngle": 0, "labelPadding": 10, "labelFontSize": 10, "labelExpr": "indexof(datum.value, 'IgG') >= 0 ? split(datum.value, ' ')[0] : ''"}},
           "y": {"field": "lysis", "type": "quantitative", "title": "% Lysis", "scale": {"domain": [0, 60], "nice": false},
                 "axis": {"values": [0, 10, 20, 30, 40, 50, 60], "titlePadding": 5, "labelPadding": 2}}
         },
         "layer": [
           {"mark": {"type": "bar", "stroke": "black", "strokeWidth": 1},
            "encoding": {"fill": {"field": "ab", "type": "nominal", "scale": {"domain": ["No Ab", "IgG", "anti-FasL"], "range": ["black", "#808080", "white"]},
              "legend": {"orient": "none", "legendX": 115.75, "legendY": -12.75, "title": null, "padding": 0, "symbolType": "square", "symbolSize": 49, "symbolOffset": 0, "labelOffset": 8.75, "rowPadding": 3.5, "labelFont": "DejaVu Sans", "labelFontSize": 9.5, "symbolStrokeColor": "black", "symbolStrokeWidth": 1, "symbolOpacity": 1}}}},
           {"mark": {"type": "rule", "color": "black"}, "encoding": {"y": {"field": "lo", "type": "quantitative", "title": "% Lysis"}, "y2": {"field": "hi"}}},
           {"mark": {"type": "tick", "color": "black", "size": 8, "thickness": 1}, "encoding": {"y": {"field": "lo", "type": "quantitative", "title": "% Lysis"}}},
           {"mark": {"type": "tick", "color": "black", "size": 8, "thickness": 1}, "encoding": {"y": {"field": "hi", "type": "quantitative", "title": "% Lysis"}}}
         ]},
        {"data": {"name": "pf"},
         "layer": [
           {"mark": {"type": "rule", "color": "black", "strokeWidth": 0.8}, "encoding": {"x": {"field": "a", "type": "nominal", "bandPosition": 0.5}, "x2": {"field": "b"}, "y": {"field": "top", "type": "quantitative", "title": "% Lysis"}}},
           {"mark": {"type": "rule", "color": "black", "strokeWidth": 0.8}, "encoding": {"x": {"field": "a", "type": "nominal", "bandPosition": 0.5}, "y": {"field": "top", "type": "quantitative", "title": "% Lysis"}, "y2": {"field": "bot"}}},
           {"mark": {"type": "rule", "color": "black", "strokeWidth": 0.8}, "encoding": {"x": {"field": "b", "type": "nominal", "bandPosition": 0.5}, "y": {"field": "top", "type": "quantitative", "title": "% Lysis"}, "y2": {"field": "bot"}}},
           {"mark": {"type": "text", "baseline": "alphabetic", "dy": -4, "font": "DejaVu Sans", "fontSize": 7.5}, "encoding": {"x": {"field": "b", "type": "nominal", "bandPosition": 0}, "y": {"field": "top", "type": "quantitative", "title": "% Lysis"}, "text": {"field": "label"}}}
         ]}
      ]
    }
    ],
    "spacing": 50,
    "bounds": "flush",
    "resolve": {"scale": {"shape": "independent", "fill": "independent", "stroke": "independent", "size": "independent", "strokeDash": "independent", "color": "independent"}}
  }
  ],
  "spacing": 30,
  "bounds": "flush",
  "resolve": {"scale": {"shape": "independent", "fill": "independent", "stroke": "independent", "size": "independent", "strokeDash": "independent", "color": "independent"}}
}
]
}
